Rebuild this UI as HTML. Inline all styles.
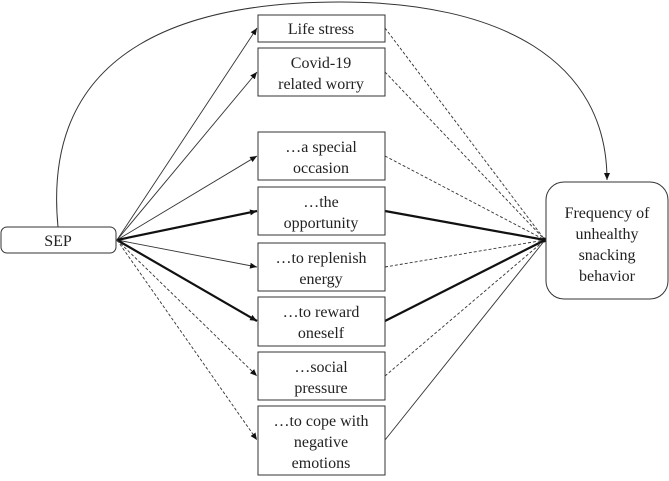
<!DOCTYPE html>
<html><head><style>
body{margin:0;background:#fff;width:669px;height:476px;overflow:hidden;font-family:"Liberation Serif",serif}
text{font-family:"Liberation Serif",serif}
</style></head><body>
<svg width="669" height="476" viewBox="0 0 669 476" xmlns="http://www.w3.org/2000/svg">
<defs>
<marker id="a" markerWidth="8" markerHeight="8" refX="7" refY="4" orient="auto" markerUnits="userSpaceOnUse"><path d="M0,1 L7,4 L0,7 Z" fill="#111"/></marker>
</defs>
<g fill="none" stroke="#333">
<path d="M58,227 C40,40 200,2 340,2 C500,2 607,60 607,180" stroke-width="1" marker-end="url(#a)"/>
<g stroke-width="0.9">
<line x1="117" y1="240" x2="257" y2="28" marker-end="url(#a)"/>
<line x1="117" y1="240" x2="257" y2="72" marker-end="url(#a)"/>
<line x1="117" y1="240" x2="257" y2="156" marker-end="url(#a)"/>
<line x1="117" y1="240" x2="257" y2="267" marker-end="url(#a)"/>
<line x1="385" y1="440" x2="545" y2="240"/>
</g>
<g stroke-width="2.2" stroke="#111">
<line x1="117" y1="240" x2="257" y2="211" marker-end="url(#a)"/>
<line x1="117" y1="240" x2="257" y2="321" marker-end="url(#a)"/>
<line x1="385" y1="211" x2="545" y2="240"/>
<line x1="385" y1="321" x2="545" y2="240"/>
</g>
<g stroke-width="0.9" stroke-dasharray="3,2">
<line x1="117" y1="240" x2="257" y2="376" marker-end="url(#a)"/>
<line x1="117" y1="240" x2="257" y2="440" marker-end="url(#a)"/>
<line x1="385" y1="28" x2="545" y2="240"/>
<line x1="385" y1="72" x2="545" y2="240"/>
<line x1="385" y1="156" x2="545" y2="240"/>
<line x1="385" y1="267" x2="545" y2="240"/>
<line x1="385" y1="376" x2="545" y2="240"/>
</g>
<circle cx="544" cy="240" r="2.5" fill="#111" stroke="none"/>
<g fill="#fff" stroke="#333" stroke-width="1">
<rect x="1" y="227" width="115" height="26" rx="6"/>
<rect x="546" y="182" width="122" height="117" rx="18"/>
<rect x="258" y="15" width="127" height="27"/>
<rect x="258" y="48" width="127" height="48"/>
<rect x="258" y="132" width="127" height="48"/>
<rect x="258" y="187" width="127" height="48"/>
<rect x="258" y="243" width="127" height="48"/>
<rect x="258" y="297" width="127" height="49"/>
<rect x="258" y="352" width="127" height="48"/>
<rect x="258" y="406" width="127" height="69"/>
</g>
</g>
<g text-anchor="middle" font-family="Liberation Serif, serif" font-size="16" fill="#222">
<text x="58" y="246">SEP</text>
<text x="607" y="218">Frequency of</text>
<text x="607" y="239">unhealthy</text>
<text x="607" y="260">snacking</text>
<text x="607" y="281">behavior</text>
<text x="321" y="34">Life stress</text>
<text x="321" y="68">Covid-19</text>
<text x="321" y="89">related worry</text>
<text x="321" y="152">…a special</text>
<text x="321" y="173">occasion</text>
<text x="321" y="207">…the</text>
<text x="321" y="228">opportunity</text>
<text x="321" y="263">…to replenish</text>
<text x="321" y="284">energy</text>
<text x="321" y="317">…to reward</text>
<text x="321" y="338">oneself</text>
<text x="321" y="372">…social</text>
<text x="321" y="393">pressure</text>
<text x="321" y="426">…to cope with</text>
<text x="321" y="447">negative</text>
<text x="321" y="468">emotions</text>
</g>
</svg>
</body></html>
